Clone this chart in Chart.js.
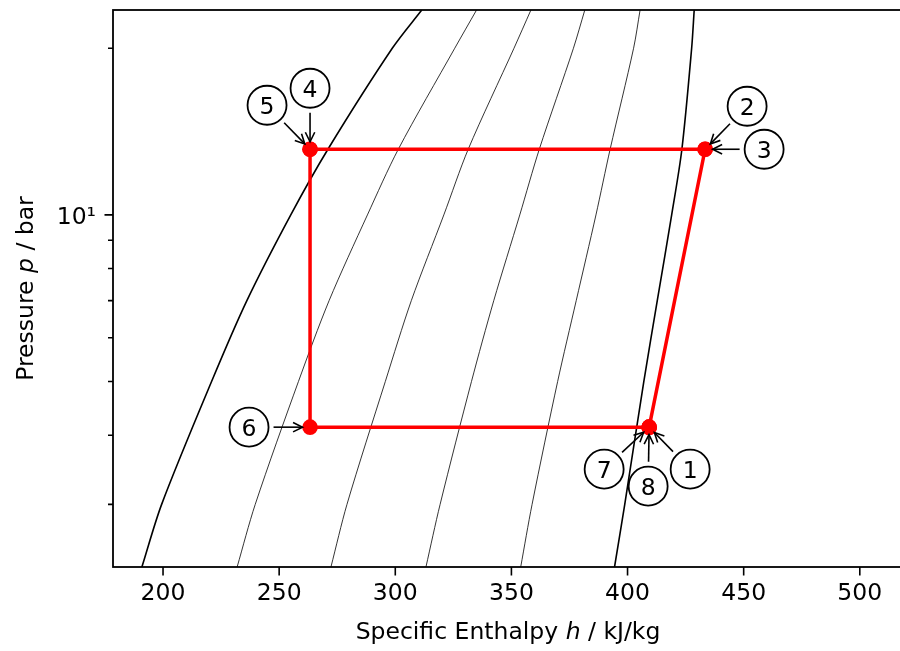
<!DOCTYPE html>
<html>
<head>
<meta charset="utf-8">
<script src="https://cdn.jsdelivr.net/npm/chart.js@4.4.1/dist/chart.umd.min.js"></script>
<style>
html,body{margin:0;padding:0;overflow:hidden;background:#fff;}
canvas{display:block;}
</style>
</head>
<body>
<canvas id="c" width="903" height="651" style="width:903px;height:651px"></canvas>
<script>
// ---- data ----
// pressure levels (bar) at which the curves were read
const pLevels     = [2.312, 3, 5, 7, 10, 13.14, 20, 23.45];
// specific enthalpy (kJ/kg) of each curve at those pressures
const hSatLiquid  = [190.9, 199.4, 220.9, 236.1, 255.0, 271.0, 298.7, 311.4];
const hQuality02  = [231.9, 239.7, 258.3, 271.5, 288.0, 301.3, 325.6, 335.0];
const hQuality04  = [272.3, 279.2, 295.7, 306.9, 320.9, 331.4, 351.1, 358.4];
const hQuality06  = [313.2, 319.3, 332.8, 342.4, 353.6, 362.0, 376.7, 381.6];
const hQuality08  = [354.0, 358.9, 369.9, 377.9, 386.4, 392.5, 402.6, 405.4];
const hSatVapor   = [394.4, 398.8, 407.0, 412.8, 419.0, 423.4, 427.6, 428.7];
// cycle state points
const stateLabels = ['1', '2', '3', '4', '5', '6', '7', '8'];
const stateH      = [409.3, 433.4, 433.4, 263.3, 263.3, 263.3, 409.3, 409.3];
const stateP      = [4.136, 13.14, 13.14, 13.14, 13.14, 4.136, 4.136, 4.136];
// axis ticks
const xTickValues = [200, 250, 300, 350, 400, 450, 500];
const yTickValues = [3, 4, 5, 6, 7, 8, 9, 10, 20];
const yMajorTicks = [10];

// ---- styling / layout (not data) ----
const FONT = '"DejaVu Sans", sans-serif';
const FS = 23.5;
// label circle offsets from their point, in pixels
const labelOffsets = [[41, 42], [42, -43], [59, 0], [0, -61], [-43, -44], [-61, 0], [-45, 42], [-1, 59]];

function curve(hs) { return hs.map((h, i) => ({ x: h, y: pLevels[i] })); }
const cyclePts = stateH.map((h, i) => ({ x: h, y: stateP[i] }));

const thin = { showLine: true, borderColor: '#000', borderWidth: 0.8, pointRadius: 0, tension: 0.3, fill: false };
const thick = { showLine: true, borderColor: '#000', borderWidth: 1.6, pointRadius: 0, tension: 0.3, fill: false };

const decorPlugin = {
  id: 'decor',
  afterDatasetsDraw(chart) {
    const ctx = chart.ctx, a = chart.chartArea, xs = chart.scales.x, ys = chart.scales.y;
    ctx.save();
    // frame
    ctx.strokeStyle = '#000';
    ctx.lineWidth = 1.8;
    ctx.strokeRect(a.left, a.top, a.right - a.left, a.bottom - a.top);
    // tick marks
    ctx.lineWidth = 1.6;
    ctx.beginPath();
    xs.ticks.forEach(t => {
      const px = xs.getPixelForValue(t.value);
      ctx.moveTo(px, a.bottom); ctx.lineTo(px, a.bottom + 8.5);
    });
    ys.ticks.forEach(t => {
      const py = ys.getPixelForValue(t.value);
      const len = yMajorTicks.includes(t.value) ? 8.5 : 5;
      ctx.moveTo(a.left, py); ctx.lineTo(a.left - len, py);
    });
    ctx.stroke();

    // annotations
    stateLabels.forEach((lab, i) => {
      const px = xs.getPixelForValue(stateH[i]);
      const py = ys.getPixelForValue(stateP[i]);
      const dx = labelOffsets[i][0], dy = labelOffsets[i][1];
      const cx = px + dx, cy = py + dy;
      const d = Math.hypot(dx, dy), ux = dx / d, uy = dy / d;
      const sx = cx - ux * 24.5, sy = cy - uy * 24.5;
      const ex = px + ux * 7.5, ey = py + uy * 7.5;
      ctx.strokeStyle = '#000';
      ctx.lineWidth = 1.6;
      ctx.beginPath();
      ctx.moveTo(sx, sy); ctx.lineTo(ex, ey);
      ctx.stroke();
      const hl = 9.5, hw = 4.7;
      const bx = ex + ux * hl, by = ey + uy * hl, nx = -uy, ny = ux;
      ctx.beginPath();
      ctx.moveTo(bx + nx * hw, by + ny * hw);
      ctx.lineTo(ex, ey);
      ctx.lineTo(bx - nx * hw, by - ny * hw);
      ctx.stroke();
      ctx.beginPath();
      ctx.arc(cx, cy, 19.5, 0, Math.PI * 2);
      ctx.fillStyle = '#fff';
      ctx.fill();
      ctx.lineWidth = 1.8;
      ctx.stroke();
      ctx.fillStyle = '#000';
      ctx.font = FS + 'px ' + FONT;
      ctx.textAlign = 'center';
      ctx.textBaseline = 'alphabetic';
      ctx.fillText(lab, cx, cy + 0.729 * FS / 2);
    });
    ctx.restore();
  },
  afterDraw(chart) {
    const ctx = chart.ctx, a = chart.chartArea;
    ctx.save();
    ctx.fillStyle = '#000';
    ctx.textBaseline = 'alphabetic';
    ctx.textAlign = 'left';
    function drawMixed(parts) {
      let w = 0;
      parts.forEach(p => { ctx.font = (p[1] ? 'italic ' : '') + FS + 'px ' + FONT; w += ctx.measureText(p[0]).width; });
      let x = -w / 2;
      parts.forEach(p => {
        ctx.font = (p[1] ? 'italic ' : '') + FS + 'px ' + FONT;
        ctx.fillText(p[0], x, 0);
        x += ctx.measureText(p[0]).width;
      });
    }
    // x title
    ctx.save();
    ctx.translate((a.left + a.right) / 2, 639);
    drawMixed([['Specific Enthalpy ', false], ['h', true], [' / kJ/kg', false]]);
    ctx.restore();
    // y title
    ctx.save();
    ctx.translate(33.3, (a.top + a.bottom) / 2);
    ctx.rotate(-Math.PI / 2);
    drawMixed([['Pressure ', false], ['p', true], [' / bar', false]]);
    ctx.restore();
    ctx.restore();
  }
};

function zeroPad(s) { s.paddingTop = 0; s.paddingBottom = 0; s.paddingLeft = 0; s.paddingRight = 0; }

new Chart(document.getElementById('c'), {
  type: 'scatter',
  data: {
    datasets: [
      { label: 'cycle', data: cyclePts, showLine: true, borderColor: '#ff0000', borderWidth: 3.5,
        pointRadius: 7.8, pointBackgroundColor: '#ff0000', pointBorderWidth: 0, pointHoverRadius: 7.8, tension: 0 },
      Object.assign({ label: 'sat. liquid', data: curve(hSatLiquid) }, thick),
      Object.assign({ label: 'sat. vapor', data: curve(hSatVapor) }, thick),
      Object.assign({ label: 'x=0.2', data: curve(hQuality02) }, thin),
      Object.assign({ label: 'x=0.4', data: curve(hQuality04) }, thin),
      Object.assign({ label: 'x=0.6', data: curve(hQuality06) }, thin),
      Object.assign({ label: 'x=0.8', data: curve(hQuality08) }, thin)
    ]
  },
  options: {
    responsive: false,
    devicePixelRatio: 1,
    animation: false,
    events: [],
    layout: { autoPadding: false, padding: { top: 10, left: 0, right: 0, bottom: 0 } },
    plugins: { legend: { display: false }, tooltip: { enabled: false } },
    scales: {
      x: {
        type: 'linear', position: 'bottom', min: 178.46, max: 518.6,
        afterBuildTicks: s => { s.ticks = xTickValues.map(v => ({ value: v })); },
        afterFit: s => { s.height = 84; zeroPad(s); },
        grid: { display: false, drawTicks: false },
        border: { display: false },
        ticks: { color: '#000', font: { family: FONT, size: FS }, padding: 13, maxRotation: 0, autoSkip: false,
                 callback: v => String(v) }
      },
      y: {
        type: 'logarithmic', position: 'left', min: 2.312, max: 23.45,
        afterBuildTicks: s => { s.ticks = yTickValues.map(v => ({ value: v, major: yMajorTicks.includes(v) })); },
        afterFit: s => { s.width = 113; zeroPad(s); },
        grid: { display: false, drawTicks: false },
        border: { display: false },
        ticks: { color: '#000', font: { family: FONT, size: FS }, padding: 17, labelOffset: 3, autoSkip: false,
                 callback: v => (yMajorTicks.includes(v) ? '10\u00B9' : '') }
      }
    }
  },
  plugins: [decorPlugin]
});
</script>
</body>
</html>
